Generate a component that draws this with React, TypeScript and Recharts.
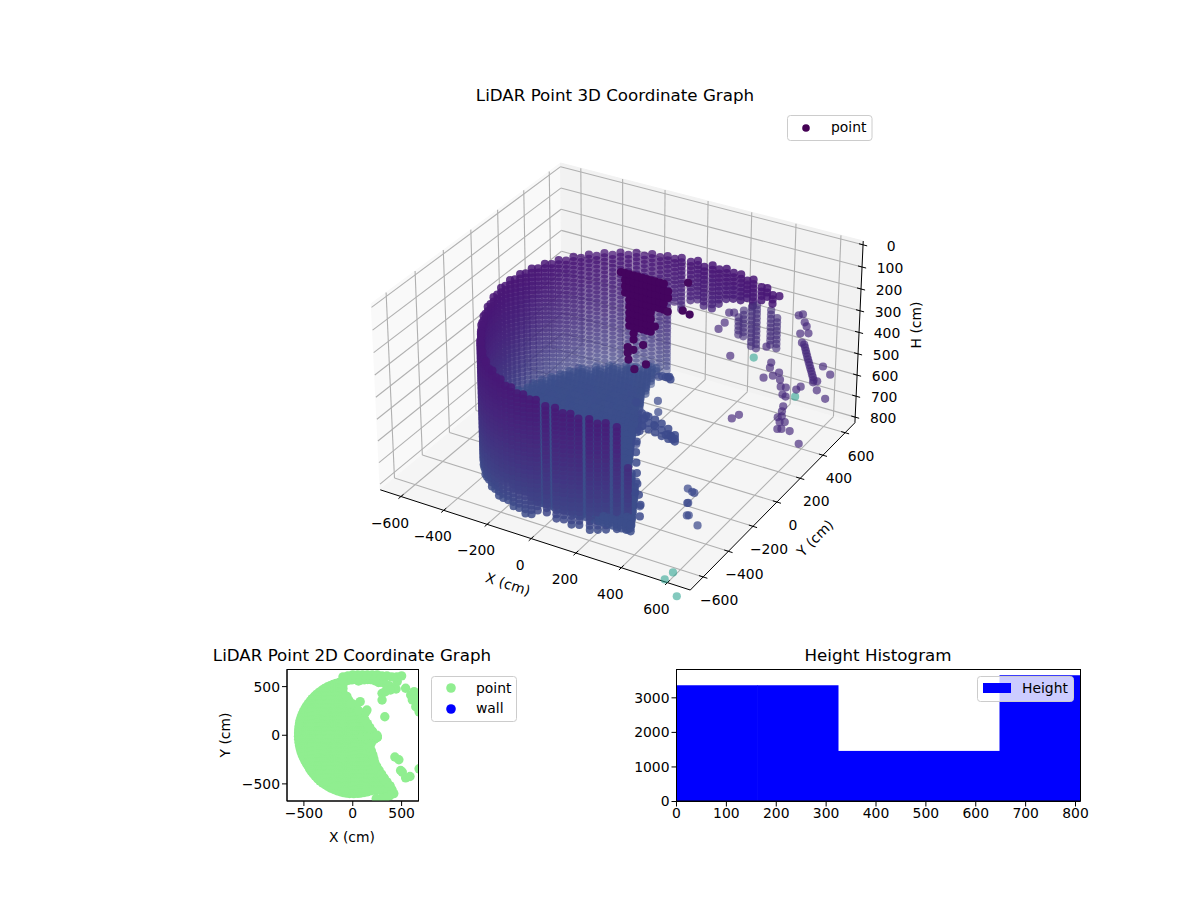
import React from 'react';
import { ScatterChart, Scatter, XAxis, YAxis, BarChart, Bar } from 'recharts';

const FONT = '"DejaVu Sans", sans-serif';

// axis ticks and limits
const xyTicks3d = [-600, -400, -200, 0, 200, 400, 600];
const hTicks3d = [0, 100, 200, 300, 400, 500, 600, 700, 800];
const X_LIM = [-698, 698];
const Y_LIM = [-700, 690];
const H_LIM = [-17, 827];

// wall columns: bearing (deg), radius (cm), first and last height (cm)
const wallAngles = [47, 50, 54, 57, 62, 64, 68, 72, 75, 78, 81, 84, 88, 91, 95, 98,
  101, 104.3, 107.7, 111, 114.3, 117.7, 121, 124.3, 127.7, 131, 134.3, 137.7, 141, 144.3, 147.7, 151, 154.3, 157.7, 161, 164.3,
  167.7, 171, 174.3, 177.7, 181, 184.3, 187.7, 191, 194.3, 197.7, 201, 204.3, 207.7, 211, 214.3, 217.7, 221, 224.3, 227.7, 231,
  234.3, 237.7, 241, 244.3, 247.7, 251, 254.3, 257.7, 261, 264, 267, 271, 275, 278, 281, 284, 288, 291, 294, 298, 302];
const wallRadii = [650, 635, 631, 623, 618, 603, 604, 602, 593, 583, 577, 561, 575, 570, 566, 565,
  560, 560, 560, 560, 560, 560, 560, 560, 560, 560, 560, 560, 560, 560, 560, 560, 560, 560, 560, 560,
  558, 557, 556, 555, 555, 555, 555, 555, 555, 555, 555, 555, 555, 555, 555, 560, 563, 566, 570, 573,
  577, 580, 582, 585, 588, 590, 592, 595, 597, 598, 600, 600, 600, 600, 600, 600, 600, 600, 600, 600, 600];
const wallTops = [200, 200, 200, 200, 200, 200, 200, 200, 200, 200, 200, 200, 200, 200, 200, 200,
  200, 200, 200, 200, 200, 200, 200, 200, 200, 200, 200, 200, 200, 200, 200, 200, 200, 200, 200, 200,
  200, 200, 200, 200, 205, 210, 215, 220, 225, 230, 232, 234, 236, 238, 240, 242, 244, 246, 248, 250,
  252, 254, 256, 258, 260, 262, 263, 264, 264, 265, 265, 270, 276, 282, 288, 294, 300, 306, 312, 318, 510];
const wallBottoms = [210, 260, 250, 270, 320, 290, 330, 340, 350, 385, 400, 400, 395, 400, 440, 410,
  750, 750, 750, 750, 750, 750, 750, 750, 750, 750, 750, 750, 750, 750, 750, 750, 750, 750, 750, 750,
  750, 750, 750, 750, 770, 780, 790, 800, 810, 810, 810, 810, 810, 810, 810, 810, 810, 810, 810, 810,
  810, 810, 810, 810, 810, 810, 810, 810, 810, 810, 780, 775, 780, 785, 790, 800, 805, 808, 805, 805, 790];
const wallRowOffsets = [0, 20, 40, 60, 80, 100, 120, 140, 160, 180, 200, 220, 240, 260, 280, 300, 320, 340, 360, 380, 400, 420, 440, 460, 480, 500, 520, 540, 560, 580, 600, 620];

// floor rows: y (cm), left and right end (cm)
const floorHeights = [725, 740, 755];
const floorYs = [520, 480, 440, 400, 360, 320, 280, 240, 200, 160, 120, 80, 40, 0, -40, -80, -120, -160, -200, -240, -280, -320, -360, -400, -440, -480, -520, -560];
const floorLefts = [-180, -260, -320, -370, -420, -440, -470, -490, -510, -520, -530, -540, -545, -550, -545, -540, -530, -520, -510, -490, -470, -440, -420, -380, -330, -270, -190, -80];
const floorRights = [-130, -130, -120, -115, -100, -91, -70, -55, -41, -10, 10, 25, 35, 46, 70, 95, 110, 130, 150, 180, 210, 240, 267, 290, 310, 330, 345, 360];
const topViewRights = [-100, -100, -100, -70, -30, 0, 35, 70, 105, 125, 150, 175, 200, 225, 220, 190, 176, 190, 205, 215, 225, 245, 270, 295, 320, 350, 380, 400];
const floorSteps = [-560, -540, -520, -500, -480, -460, -440, -420, -400, -380, -360, -340, -320, -300, -280, -260, -240, -220, -200, -180, -160, -140, -120, -100, -80, -60, -40, -20, 0, 20, 40, 60, 80, 100, 120, 140, 160, 180, 200, 220, 240, 260, 280, 300, 320, 340, 360, 380, 400];

// points along the floor's right edge and the arm that sticks out of it: [x, y, H]
const ridgePoints = [[-60, 400, 683], [0, 320, 620], [50, 260, 580], [100, 190, 531], [125, 155, 503], [150, 120, 490], [175, 80, 725], [200, 40, 697], [228, 0, 683], [220, -40, 642], [190, -80, 585], [176, -120, 524], [190, -160, 513], [205, -200, 520], [215, -240, 520], [225, -280, 543], [245, -320, 564], [270, -360, 582], [295, -400, 600], [320, -440, 619], [350, -480, 637], [380, -520, 651], [400, -560, 674]];
const armPoints = [[100, -20, 590], [100, -20, 620], [100, -20, 650], [130, -20, 595], [130, -20, 625], [130, -20, 655], [160, -20, 600], [160, -20, 632], [160, -20, 660], [190, -20, 610], [190, -20, 640], [190, -20, 668], [220, -20, 625], [220, -20, 650], [220, -20, 672], [250, -20, 645], [250, -20, 662], [250, -20, 675]];

// dark patch on the far wall: H of the row, first and last x (cm), all at y = 400
const blobY = 400;
const blobHs = [240, 270, 300, 330, 360, 390, 420, 450, 480, 510, 540];
const blobStarts = [-240, -232, -225, -220, -215, -210, -207, -203, -200, -197, -193];
const blobEnds = [-30, -20, -20, -25, -40, -95, -100, -75, -95, -165, -180];
const blobXs = [-240, -220, -200, -180, -160, -140, -120, -100, -80, -60, -40, -20];
const darkPoints = [[-208, 400, 583], [-208, 400, 611], [-204, 400, 642], [-181, 400, 589], [-135, 400, 553], [-121, 400, 641], [-176, 400, 680], [71, 400, 205], [-21, 400, 364], [48, 400, 340], [80, 400, 349]];

// scattered returns on the right: [x, y, H]
const stackXs = [240, 263, 299, 322, 386, 414];
const stackTops = [376, 338, 313, 297, 302, 330];
const stackBottoms = [468, 475, 497, 503, 472, 486];
const STACK_Y = 520;
const purplePoints = [
  [590, 414, 350], [594, 414, 362], [598, 414, 375], [601, 414, 387], [605, 414, 400], [609, 414, 412], [613, 414, 425], [617, 414, 437], [621, 414, 450], [625, 414, 462], [629, 414, 475], [633, 414, 487], [637, 414, 500],
  [562, 414, 225], [580, 414, 215], [589, 414, 249], [598, 414, 265], [571, 414, 305], [607, 414, 294], [580, 414, 344], [653, 414, 501], [635, 414, 511], [653, 414, 543], [676, 414, 426], [668, 500, 510], [650, 500, 628],
  [266, 300, 314], [293, 300, 278], [312, 300, 227], [334, 300, 221], [321, 300, 422], [481, 300, 334], [504, 300, 400], [499, 300, 425], [472, 300, 479], [513, 300, 458], [540, 300, 436], [545, 300, 467], [549, 300, 498], [572, 300, 495], [558, 300, 532], [572, 300, 537], [618, 300, 491], [637, 300, 472],
  [334, 300, 711], [366, 300, 684], [563, 300, 585], [558, 300, 610], [540, 300, 643], [572, 300, 656], [540, 300, 698], [558, 300, 692], [595, 300, 691], [637, 300, 738], [558, 300, 633], [549, 300, 663],
];
const bluePoints = [[443, -262, 700], [469, -274, 700], [480, -277, 700], [491, -353, 700], [494, -351, 700], [532, -430, 700], [538, -426, 700], [601, -471, 700], [345, -464, 700], [58, 183, 650], [102, 108, 650], [344, -491, 220], [344, -491, 404], [344, -491, 573], [340, -495, 619]];
const tealPoints = [[614, 300, 525], [426, 300, 400], [604, -665, 800], [600, -721, 800], [693, -795, 800]];

// extra returns that show in the top view: [x, y]
const topViewPoints = [[76, 345], [145, 259], [134, 241], [59, 252], [-21, 328], [328, 190], [300, 362], [300, 431], [386, 465], [334, 448], [455, 552], [541, 483], [628, 448], [593, 414], [610, 362], [645, 293], [679, 241], [662, 379], [431, -224], [472, -252], [490, -362], [507, -379], [541, -438], [586, -424], [679, -345], [248, 0], [450, 600], [500, 610], [400, 600], [350, 610], [300, 610], [250, 620], [200, 620], [150, 620], [100, 620], [50, 620], [0, 620], [-50, 610], [-100, 600], [420, -600], [380, -620], [340, -640], [290, -650], [240, -650]];

// histogram bins
const binCenters = [81, 243, 405, 567, 729];
const binCounts = [3364, 3364, 1464, 1464, 3654];
const histXTicks = [0, 100, 200, 300, 400, 500, 600, 700, 800];
const histYTicks = [0, 1000, 2000, 3000];
const topTicks = [-500, 0, 500];

// mplot3d camera: elev 30, azim -60, distance 10
const HALF_X = 0.5952;
const HALF_Y = 0.5952;
const HALF_Z = 0.357;
const project = (x: number, y: number, h: number) => {
  const qx = ((x - X_LIM[0]) / (X_LIM[1] - X_LIM[0]) - 0.5) * 2 * HALF_X;
  const qy = ((y - Y_LIM[0]) / (Y_LIM[1] - Y_LIM[0]) - 0.5) * 2 * HALF_Y;
  const qz = (0.5 - (h - H_LIM[0]) / (H_LIM[1] - H_LIM[0])) * 2 * HALF_Z;
  const xc = 0.866 * qx + 0.5 * qy;
  const yc = -0.25 * qx + 0.433 * qy + 0.866 * qz;
  const depth = 0.433 * qx - 0.75 * qy + 0.5 * qz;
  const d = 10 - depth;
  return { sx: 622 + (2970 * xc) / d, sy: 365.3 - (2975 * yc) / d, depth };
};

const mix = (a: number[], b: number[], t: number) => {
  const c = a.map((v, i) => Math.round(v + (b[i] - v) * t));
  return `rgb(${c[0]},${c[1]},${c[2]})`;
};
const wallColor = (h: number) => mix([73, 22, 118], [61, 76, 138], Math.pow(Math.min(1, Math.max(0, (h - 200) / 600)), 1.3));

type Raw = { x: number; y: number; h: number; color: string; base: number };
const raw: Raw[] = [];
const floorXY: number[][] = [];

wallAngles.forEach((deg, i) => {
  const a = (deg * Math.PI) / 180;
  const x = wallRadii[i] * Math.cos(a);
  const y = wallRadii[i] * Math.sin(a);
  floorXY.push([x, y]);
  wallRowOffsets.forEach((o) => {
    // neighbouring columns sit half a row apart
    const h = wallTops[i] + o + (i % 2) * 10;
    if (h <= wallBottoms[i]) raw.push({ x, y, h, color: wallColor(h), base: 1 });
  });
});
floorYs.forEach((y, i) => {
  floorSteps.forEach((x) => {
    if (x >= floorLefts[i] && x <= floorRights[i]) {
      floorHeights.forEach((h) => raw.push({ x, y, h, color: '#3c4e8b', base: 1 }));
    }
    if (x >= floorLefts[i] && x <= topViewRights[i]) floorXY.push([x, y]);
  });
});
ridgePoints.concat(armPoints).forEach(([x, y, h]) => {
  raw.push({ x, y, h, color: '#3c4a8c', base: 1 });
  floorXY.push([x, y]);
});
blobHs.forEach((h, i) => {
  blobXs.forEach((x) => {
    if (x >= blobStarts[i] && x <= blobEnds[i]) raw.push({ x, y: blobY, h, color: '#44045f', base: 2 });
  });
});
darkPoints.forEach(([x, y, h]) => raw.push({ x, y, h, color: '#45095f', base: 1.6 }));
stackXs.forEach((x, i) => {
  wallRowOffsets.forEach((o) => {
    const h = stackTops[i] + o;
    if (h <= stackBottoms[i]) raw.push({ x, y: STACK_Y, h, color: '#46307c', base: 0.75 });
  });
});
purplePoints.forEach(([x, y, h]) => raw.push({ x, y, h, color: '#472a7c', base: 0.8 }));
bluePoints.forEach(([x, y, h]) => raw.push({ x, y, h, color: '#3c4a8c', base: 0.85 }));
tealPoints.forEach(([x, y, h]) => raw.push({ x, y, h, color: '#1f9e89', base: 0.65 }));

const projected = raw.map((p) => ({ ...p, ...project(p.x, p.y, p.h) }));
const depths = projected.map((p) => p.depth);
const dMin = Math.min(...depths);
const dMax = Math.max(...depths);
const cloud = projected
  .map((p) => ({ ...p, alpha: Math.min(1, p.base * Math.min(0.85, 0.45 + (1.5 * (p.depth - dMin)) / (dMax - dMin))) }))
  .sort((a, b) => a.depth - b.depth);

const topView = floorXY.concat(topViewPoints).map(([x, y]) => ({ x, y }));
const histData = binCenters.map((c, i) => ({ bin: c, count: binCounts[i] }));

const [x0, x1] = X_LIM;
const [y0, y1] = Y_LIM;
const [h0, h1] = H_LIM;
const seg = (a: number[], b: number[]) => [project(a[0], a[1], a[2]), project(b[0], b[1], b[2])];

const panes = [
  { fill: '#f9f9f9', pts: seg([x0, y0, h1], [x0, y0, h0]).concat(seg([x0, y1, h0], [x0, y1, h1])) },
  { fill: '#f2f2f2', pts: seg([x0, y1, h1], [x0, y1, h0]).concat(seg([x1, y1, h0], [x1, y1, h1])) },
  { fill: '#f5f5f5', pts: seg([x0, y0, h1], [x1, y0, h1]).concat(seg([x1, y1, h1], [x0, y1, h1])) },
];
const gridLines = [
  ...xyTicks3d.flatMap((t) => [
    seg([t, y0, h1], [t, y1, h1]),
    seg([t, y1, h1], [t, y1, h0]),
    seg([x0, t, h1], [x1, t, h1]),
    seg([x0, t, h1], [x0, t, h0]),
  ]),
  ...hTicks3d.flatMap((t) => [seg([x0, y0, t], [x0, y1, t]), seg([x0, y1, t], [x1, y1, t])]),
];
const axisLines = [
  seg([x0, y0, h1], [x1, y0, h1]),
  seg([x1, y0, h1], [x1, y1, h1]),
  seg([x1, y1, h1], [x1, y1, h0]),
  ...xyTicks3d.flatMap((t) => [seg([t, y0 + 18, h1], [t, y0 - 18, h1]), seg([x1 - 18, t, h1], [x1 + 18, t, h1])]),
  ...hTicks3d.map((t) => seg([x1 - 18, y1, t], [x1 + 18, y1, t])),
];
const tickLabels = [
  ...xyTicks3d.map((t) => ({ ...project(t, y0, h1), text: t, dx: -11, dy: 26 })),
  ...xyTicks3d.map((t) => ({ ...project(x1, t, h1), text: t, dx: 16, dy: 23 })),
  ...hTicks3d.map((t) => ({ ...project(x1, y1, t), text: t, dx: 28, dy: 1 })),
];

const minus = (v: number | string) => String(v).replace('-', '\u2212');
const nothing = () => <g />;

const CloudDot = (props: any) => (
  <circle cx={props.cx} cy={props.cy} r={4.1} fill={props.payload.color} fillOpacity={props.payload.alpha} />
);
const TickText = (props: any) => (
  <text x={props.cx + props.payload.dx} y={props.cy + props.payload.dy} textAnchor="middle" dominantBaseline="central" fontSize={13.9} fontFamily={FONT} fill="#000">
    {minus(props.payload.text)}
  </text>
);
const TopDot = (props: any) => <circle cx={props.cx} cy={props.cy} r={4.7} fill="#90ee90" />;

// a number axis leaves gaps between bars, so every bin is widened to its full 162 cm
const BIN_PX = 81.4;
const BinBar = (props: any) => (
  <rect x={props.x + props.width / 2 - BIN_PX / 2} y={props.y} width={BIN_PX} height={props.height} fill="#0000ff" />
);

const Overlay = () => (
  <svg width={1200} height={900} style={{ position: 'absolute', left: 0, top: 0, pointerEvents: 'none' }} fontFamily={FONT} fill="#000">
    <text x={615} y={101} fontSize={16.7} textAnchor="middle">LiDAR Point 3D Coordinate Graph</text>
    <text x={352} y={661} fontSize={16.7} textAnchor="middle">LiDAR Point 2D Coordinate Graph</text>
    <text x={878} y={661} fontSize={16.7} textAnchor="middle">Height Histogram</text>
    <text x={508} y={584} fontSize={13.9} textAnchor="middle" dominantBaseline="central" transform="rotate(18 508 584)">X (cm)</text>
    <text x={815} y={538} fontSize={13.9} textAnchor="middle" dominantBaseline="central" transform="rotate(-45 815 538)">Y (cm)</text>
    <text x={916} y={325} fontSize={13.9} textAnchor="middle" dominantBaseline="central" transform="rotate(-90 916 325)">H (cm)</text>
    <text x={352} y={842} fontSize={13.9} textAnchor="middle">X (cm)</text>
    <text x={225} y={735} fontSize={13.9} textAnchor="middle" dominantBaseline="central" transform="rotate(-90 225 735)">Y (cm)</text>

    <rect x={287} y={669.5} width={131.5} height={131.5} fill="none" stroke="#000" strokeWidth={1} />
    <rect x={676.5} y={669.5} width={404} height={131.5} fill="none" stroke="#000" strokeWidth={1} />

    <rect x={787.5} y={115.5} width={84.5} height={25} rx={3} fill="#fff" fillOpacity={0.8} stroke="#ccc" />
    <circle cx={806} cy={128} r={3.8} fill="#440154" />
    <text x={831} y={132} fontSize={13.9}>point</text>

    <rect x={431.5} y={676.5} width={85} height={45} rx={3} fill="#fff" fillOpacity={0.8} stroke="#ccc" />
    <circle cx={451} cy={688} r={4.8} fill="#90ee90" />
    <circle cx={451} cy={709} r={4.8} fill="#0000ff" />
    <text x={476} y={693} fontSize={13.9}>point</text>
    <text x={476} y={713} fontSize={13.9}>wall</text>

    <rect x={977.5} y={676.5} width={96} height={25} rx={3} fill="#fff" fillOpacity={0.8} stroke="#ccc" />
    <rect x={983} y={683} width={28} height={10} fill="#0000ff" />
    <text x={1022} y={693} fontSize={13.9}>Height</text>
  </svg>
);

export default function App() {
  const tickStyle = { fontSize: 13.9, fontFamily: FONT, fill: '#000' };
  return (
    <div style={{ position: 'absolute', left: 0, top: 0, width: 1200, height: 900, background: '#fff' }}>
      <div style={{ position: 'absolute', left: 0, top: 0 }}>
        <ScatterChart width={1200} height={640} margin={{ top: 0, right: 0, bottom: 0, left: 0 }}>
          <XAxis type="number" dataKey="sx" domain={[0, 1200]} hide />
          <YAxis type="number" dataKey="sy" domain={[0, 640]} reversed hide />
          {panes.map((p, i) => (
            <Scatter
              key={`pane-${i}`}
              data={p.pts}
              isAnimationActive={false}
              shape={nothing}
              line={(lp: any) => (
                <polygon points={lp.points.map((q: any) => `${q.x},${q.y}`).join(' ')} fill={p.fill} stroke={p.fill} />
              )}
            />
          ))}
          {gridLines.map((g, i) => (
            <Scatter key={`grid-${i}`} data={g} isAnimationActive={false} shape={nothing} line={{ stroke: '#b0b0b0', strokeWidth: 1.1 }} />
          ))}
          {axisLines.map((g, i) => (
            <Scatter key={`axis-${i}`} data={g} isAnimationActive={false} shape={nothing} line={{ stroke: '#000', strokeWidth: 1 }} />
          ))}
          <Scatter data={tickLabels} isAnimationActive={false} shape={TickText} />
          <Scatter data={cloud} isAnimationActive={false} shape={CloudDot} />
        </ScatterChart>
      </div>

      <div style={{ position: 'absolute', left: 210, top: 660 }}>
        <ScatterChart width={220} height={200} margin={{ top: 9.5, right: 11.5, bottom: 19, left: 0 }}>
          <XAxis type="number" dataKey="x" domain={[-673, 673]} ticks={topTicks} allowDataOverflow tick={tickStyle} tickFormatter={minus} tickLine={{ stroke: '#000' }} axisLine={{ stroke: '#000' }} tickSize={5} height={40} />
          <YAxis type="number" dataKey="y" domain={[-676, 676]} ticks={topTicks} allowDataOverflow tick={tickStyle} tickFormatter={minus} tickLine={{ stroke: '#000' }} axisLine={{ stroke: '#000' }} tickSize={5} width={77} />
          <Scatter data={topView} isAnimationActive={false} shape={TopDot} />
        </ScatterChart>
      </div>

      <div style={{ position: 'absolute', left: 620, top: 660 }}>
        <BarChart width={480} height={180} data={histData} margin={{ top: 9.5, right: 19.5, bottom: 8.5, left: 0 }} barCategoryGap={0}>
          <XAxis type="number" dataKey="bin" domain={[0, 810]} ticks={histXTicks} allowDataOverflow tick={tickStyle} tickLine={{ stroke: '#000' }} axisLine={{ stroke: '#000' }} tickSize={5} height={30} />
          <YAxis type="number" domain={[0, 3820]} ticks={histYTicks} tick={tickStyle} tickLine={{ stroke: '#000' }} axisLine={{ stroke: '#000' }} tickSize={5} width={56.5} />
          <Bar dataKey="count" shape={BinBar} isAnimationActive={false} />
        </BarChart>
      </div>

      <Overlay />
    </div>
  );
}
